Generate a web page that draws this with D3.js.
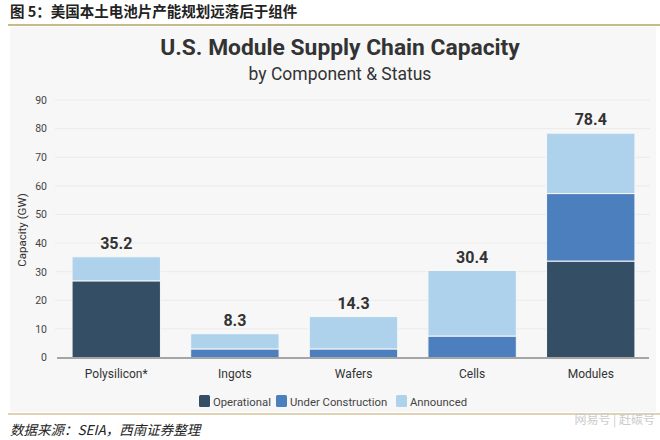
<!DOCTYPE html>
<html><head><meta charset="utf-8">
<script src="https://cdn.jsdelivr.net/npm/d3@7"></script>
<style>body{margin:0;background:#fff}svg{display:block}</style>
</head><body>
<svg id="c" width="660" height="440"></svg>
<script>
const categories = ["Polysilicon*", "Ingots", "Wafers", "Cells", "Modules"];
const operational = [26.8, 0, 0, 0, 33.7];
const underConstruction = [0, 3.0, 3.0, 7.5, 23.6];
const announced = [8.4, 5.3, 11.3, 22.9, 21.1];
const totals = [35.2, 8.3, 14.3, 30.4, 78.4];
const seriesNames = ["Operational", "Under Construction", "Announced"];
const seriesColors = ["#344e66", "#4c7fbd", "#aed1ec"];
const yTicks = [0, 10, 20, 30, 40, 50, 60, 70, 80, 90];

const svg = d3.select("#c");
const F = "Roboto, 'Noto Sans', sans-serif";

// panel background
svg.append("rect").attr("x", 10).attr("y", 27).attr("width", 646).attr("height", 385).attr("fill", "#f7f7f7");

// header
svg.append("text").attr("x", 10).attr("y", 17).attr("font-family", "'Noto Sans CJK SC', sans-serif")
  .attr("font-weight", "bold").attr("font-size", 14.5).attr("fill", "#222")
  .text("图 5：美国本土电池片产能规划远落后于组件");
svg.append("line").attr("x1", 8).attr("x2", 660).attr("y1", 25).attr("y2", 25).attr("stroke", "#b5a462").attr("stroke-width", 1.5);
svg.append("line").attr("x1", 8).attr("x2", 660).attr("y1", 414).attr("y2", 414).attr("stroke", "#c2a86a").attr("stroke-width", 1.2);
svg.append("text").attr("x", 10).attr("y", 435).attr("font-family", "'Noto Sans CJK SC', sans-serif")
  .attr("font-style", "italic").attr("font-size", 13.5).attr("fill", "#222")
  .text("数据来源：SEIA，西南证券整理");
svg.append("text").attr("x", 655).attr("y", 424).attr("text-anchor", "end").attr("font-family", "'Noto Sans CJK SC', sans-serif")
  .attr("font-size", 12).attr("fill", "#ccc").text("网易号 | 赶碳号");

// titles
svg.append("text").attr("x", 340).attr("y", 55).attr("text-anchor", "middle").attr("font-family", F)
  .attr("font-weight", "bold").attr("font-size", 22.8).attr("fill", "#333").text("U.S. Module Supply Chain Capacity");
svg.append("text").attr("x", 340).attr("y", 80).attr("text-anchor", "middle").attr("font-family", F)
  .attr("font-size", 17.5).attr("fill", "#333").text("by Component & Status");

const x = d3.scaleBand().domain(categories).range([57, 650]).paddingInner(0.255).paddingOuter(0.127);
const y = d3.scaleLinear().domain([0, 90]).range([357.5, 100]);

// grid
svg.append("g").selectAll("line").data(yTicks.slice(1)).join("line")
  .attr("x1", 55).attr("x2", 650).attr("y1", d => y(d)).attr("y2", d => y(d))
  .attr("stroke", "#ebebeb").attr("stroke-width", 1);

// y axis
const ya = svg.append("g").attr("transform", "translate(50,0)")
  .call(d3.axisLeft(y).tickValues(yTicks).tickSize(0).tickPadding(0));
ya.select(".domain").remove();
ya.selectAll("text").attr("font-family", F).attr("font-size", 10.5).attr("fill", "#444").attr("text-anchor", "end").attr("x", -3);

svg.append("text").attr("transform", "translate(26,230) rotate(-90)").attr("text-anchor", "middle")
  .attr("font-family", F).attr("font-size", 11.5).attr("fill", "#333").text("Capacity (GW)");

// stacks
const rows = categories.map((c, i) => ({cat: c, Operational: operational[i], "Under Construction": underConstruction[i], Announced: announced[i]}));
const stack = d3.stack().keys(seriesNames)(rows);
svg.append("g").selectAll("g").data(stack).join("g").attr("fill", (d, i) => seriesColors[i])
  .selectAll("rect").data(d => d.filter(s => s[1] - s[0] > 0)).join("rect")
  .attr("x", d => x(d.data.cat)).attr("width", x.bandwidth())
  .attr("y", d => y(d[1])).attr("height", d => y(d[0]) - y(d[1]))
  .attr("stroke", "#f7f7f7").attr("stroke-width", 1);

// baseline
svg.append("line").attr("x1", 57).attr("x2", 649).attr("y1", y(0) + 0.5).attr("y2", y(0) + 0.5).attr("stroke", "#555").attr("stroke-width", 1.2);

// x axis labels
const xa = svg.append("g").attr("transform", `translate(0,${y(0)})`).call(d3.axisBottom(x).tickSize(0).tickPadding(12));
xa.select(".domain").remove();
xa.selectAll("text").attr("font-family", F).attr("font-size", 12).attr("fill", "#333");

// total labels
svg.append("g").selectAll("text").data(categories).join("text")
  .attr("x", d => x(d) + x.bandwidth() / 2).attr("y", (d, i) => y(totals[i]) - 8)
  .attr("text-anchor", "middle").attr("font-family", F).attr("font-weight", "bold").attr("font-size", 16).attr("fill", "#333")
  .text((d, i) => totals[i].toFixed(1));

// legend
const legendX = [199, 276, 396];
const lg = svg.append("g").selectAll("g").data(seriesNames).join("g")
  .attr("transform", (d, i) => `translate(${legendX[i]},395)`);
lg.append("rect").attr("width", 11).attr("height", 12).attr("rx", 1.5).attr("fill", (d, i) => seriesColors[i]);
lg.append("text").attr("x", 14).attr("y", 10.5).attr("font-family", F).attr("font-size", 11.3).attr("fill", "#444").text(d => d);
</script>
</body></html>
